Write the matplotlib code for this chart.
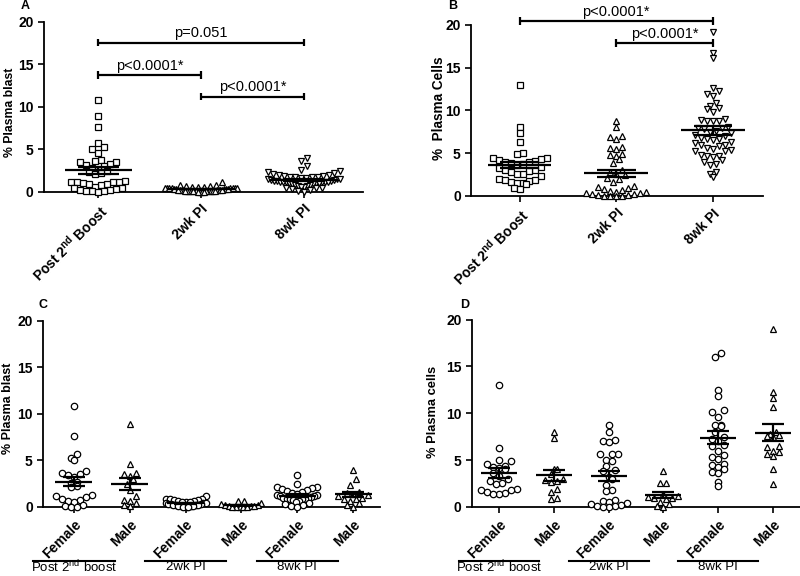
import numpy as np
import matplotlib
matplotlib.use("Agg")
from matplotlib import pyplot as plt

plt.rcParams["font.family"] = "Liberation Sans"
plt.rcParams["mathtext.fontset"] = "custom"
plt.rcParams["mathtext.rm"] = "Liberation Sans"
plt.rcParams["mathtext.bf"] = "Liberation Sans:bold"

# panel A: % plasma blast
blast_boost = [10.8, 8.9, 7.6, 5.7, 5.3, 5.0, 4.6, 3.8, 3.6, 3.5, 3.5, 3.3, 3.1, 3.0, 2.8,
               2.6, 2.4, 2.3, 2.2, 2.1, 1.3, 1.2, 1.2, 1.1, 1.1, 1.0, 0.9, 0.9, 0.8, 0.6,
               0.5, 0.4, 0.3, 0.2, 0.2, 0.1, 0.1, 0.1, 0.0]
blast_2wk = [1.1, 0.8, 0.8, 0.7, 0.7, 0.6, 0.6, 0.6, 0.5, 0.5, 0.5, 0.5, 0.4, 0.4, 0.4,
             0.4, 0.3, 0.3, 0.3, 0.3, 0.3, 0.2, 0.2, 0.2, 0.2, 0.2, 0.2, 0.1, 0.1, 0.1,
             0.1, 0.1, 0.1, 0.1, 0.1, 0.05, 0.05, 0.05, 0.0, 0.0, 0.0, 0.0]
blast_8wk = [4.0, 3.6, 3.0, 2.6, 2.4, 2.3, 2.2, 2.1, 2.0, 2.0, 1.9, 1.9, 1.8, 1.8, 1.7,
             1.7, 1.6, 1.6, 1.5, 1.5, 1.5, 1.4, 1.4, 1.3, 1.3, 1.3, 1.2, 1.2, 1.2, 1.1,
             1.1, 1.1, 1.0, 1.0, 1.0, 0.9, 0.9, 0.8, 0.8, 0.7, 0.7, 0.6, 0.6, 0.5, 0.5,
             0.4, 0.3, 0.2, 0.1, 0.0]

# panel B: % plasma cells
cells_boost = [13.0, 8.0, 7.4, 6.3, 5.0, 4.9, 4.4, 4.4, 4.3, 4.2, 4.1, 4.0, 3.9, 3.8, 3.7,
               3.6, 3.4, 3.2, 3.0, 3.0, 2.9, 2.8, 2.6, 2.5, 2.3, 2.0, 1.9, 1.8, 1.7, 1.6,
               1.5, 1.5, 1.4, 0.9, 0.8]
cells_2wk = [8.7, 8.0, 7.0, 6.9, 6.7, 5.7, 5.6, 5.5, 4.9, 4.8, 4.7, 4.3, 3.8, 3.0, 2.8,
             2.6, 2.4, 2.1, 2.0, 1.6, 1.2, 1.0, 0.9, 0.8, 0.7, 0.6, 0.5, 0.4, 0.3, 0.3,
             0.2, 0.2, 0.1, 0.1, 0.0, 0.0, 0.0, 0.0]
cells_8wk = [19.1, 16.7, 16.1, 12.6, 12.3, 11.9, 11.7, 10.9, 10.5, 10.3, 10.1, 9.8, 9.0,
             8.9, 8.8, 8.8, 8.7, 8.1, 7.9, 7.9, 7.8, 7.6, 7.5, 7.4, 7.1, 7.0, 6.8, 6.7,
             6.6, 6.5, 6.3, 6.2, 6.0, 5.9, 5.8, 5.6, 5.5, 5.4, 5.3, 5.2, 4.8, 4.7, 4.6,
             4.5, 4.2, 4.0, 3.7, 3.6, 2.8, 2.5, 2.2]

# panel C: % plasma blast by sex
blast_f_boost = [10.8, 7.6, 5.7, 5.3, 5.0, 3.9, 3.6, 3.5, 3.4, 3.2, 2.7, 2.6, 2.2, 2.1,
                 1.3, 1.2, 1.1, 0.8, 0.7, 0.6, 0.5, 0.2, 0.1, 0.0, 0.0]
blast_m_boost = [8.9, 4.6, 3.6, 3.5, 3.3, 3.0, 2.5, 1.8, 1.2, 0.7, 0.6, 0.4, 0.2, 0.1]
blast_f_2wk = [1.2, 0.9, 0.8, 0.8, 0.7, 0.7, 0.6, 0.6, 0.5, 0.5, 0.5, 0.4, 0.4, 0.4, 0.3,
               0.3, 0.3, 0.2, 0.2, 0.2, 0.2, 0.1, 0.1, 0.1, 0.1, 0.0, 0.0, 0.0]
blast_m_2wk = [0.6, 0.6, 0.4, 0.3, 0.2, 0.2, 0.1, 0.1, 0.1, 0.0, 0.0, 0.0, 0.0, 0.0]
blast_f_8wk = [3.4, 2.5, 2.1, 2.1, 2.0, 1.9, 1.8, 1.7, 1.6, 1.5, 1.4, 1.3, 1.3, 1.2, 1.2,
               1.1, 1.0, 1.0, 0.9, 0.9, 0.8, 0.8, 0.7, 0.6, 0.5, 0.4, 0.3, 0.2, 0.1, 0.0]
blast_m_8wk = [4.0, 3.0, 2.3, 1.6, 1.5, 1.4, 1.3, 1.2, 1.0, 0.9, 0.8, 0.6, 0.4, 0.2, 0.0]

# panel D: % plasma cells by sex
cells_f_boost = [13.0, 6.3, 5.0, 4.9, 4.6, 4.4, 4.3, 4.2, 4.0, 3.6, 3.3, 3.0, 2.8, 2.5,
                 2.4, 1.9, 1.8, 1.8, 1.6, 1.5, 1.4, 1.4]
cells_m_boost = [8.0, 7.4, 4.1, 4.0, 3.5, 3.0, 2.9, 2.8, 2.7, 1.9, 1.6, 0.9, 0.8]
cells_f_2wk = [8.8, 8.0, 7.1, 7.0, 6.9, 5.7, 5.6, 5.6, 5.0, 4.9, 4.4, 3.9, 3.8, 3.2, 3.0,
               2.3, 1.8, 1.7, 0.7, 0.6, 0.5, 0.4, 0.3, 0.2, 0.1, 0.1, 0.0, 0.0]
cells_m_2wk = [3.8, 2.5, 2.5, 1.4, 1.2, 1.1, 1.0, 0.9, 0.8, 0.5, 0.3, 0.1, 0.0]
cells_f_8wk = [16.4, 16.0, 12.5, 11.8, 10.4, 10.1, 9.6, 8.8, 8.7, 8.6, 8.0, 7.5, 7.2, 7.0,
               6.6, 6.5, 6.0, 5.5, 5.3, 5.1, 4.6, 4.5, 4.3, 4.0, 3.7, 3.6, 2.7, 2.2]
cells_m_8wk = [19.0, 12.3, 11.6, 10.7, 8.0, 7.8, 7.7, 7.6, 7.5, 6.5, 6.4, 6.0, 5.9, 5.7,
               5.4, 4.0, 2.4]

time_labels = [r"Post 2$^{\bf nd}$ Boost", "2wk PI", "8wk PI"]
sex_labels = ["Female", "Male"] * 3
group_labels = [r"Post 2$^{\mathrm{nd}}$ boost", "2wk PI", "8wk PI"]

W, H = 800, 576


def rows(vals, xs, ys, bin_px, d, maxw):
    # prism-like scatter: bin by height, spread each row sideways
    vals = np.asarray(vals, float)
    offs = np.zeros(len(vals))
    b = np.floor(vals * ys / bin_px + 0.5)
    for k in np.unique(b):
        idx = np.where(b == k)[0]
        idx = idx[np.argsort(vals[idx], kind="stable")]
        n = len(idx)
        s = d if n < 2 else min(d, maxw / (n - 1))
        pos = (np.arange(n) - (n - 1) / 2) * s
        pos = pos[np.argsort(np.abs(pos), kind="stable")]
        offs[idx] = pos / xs
    return offs


def setup(ax, xlim):
    ax.set_xlim(*xlim)
    ax.set_ylim(0, 20)
    for s in ["top", "right"]:
        ax.spines[s].set_visible(False)
    for s in ["left", "bottom"]:
        ax.spines[s].set_linewidth(1.3)
    ax.set_yticks([0, 5, 10, 15, 20])
    ax.tick_params(axis="both", width=1.2, length=4, labelsize=10)
    for lab in ax.get_yticklabels():
        lab.set_fontweight("bold")


def draw_group(ax, pos, vals, marker, ms, maxw):
    p = ax.get_position()
    xs = p.width * W / (ax.get_xlim()[1] - ax.get_xlim()[0])
    ys = p.height * H / 20.0
    off = rows(vals, xs, ys, 8.5, 6.0, maxw)
    ax.plot(pos + off, vals, linestyle="none", marker=marker, ms=ms, mfc="white",
            mec="black", mew=0.9, clip_on=False, zorder=3)
    m = np.mean(vals)
    se = np.std(vals, ddof=1) / np.sqrt(len(vals))
    kw = dict(color="black", lw=1.6, zorder=4, solid_capstyle="butt")
    ax.plot([pos - 0.33, pos + 0.33], [m, m], **kw)
    ax.plot([pos - 0.2, pos + 0.2], [m + se, m + se], **kw)
    ax.plot([pos - 0.2, pos + 0.2], [m - se, m - se], **kw)
    ax.plot([pos, pos], [m - se, m + se], **kw)


def bracket(ax, x1, x2, y, text):
    kw = dict(color="black", lw=1.6, clip_on=False, solid_capstyle="butt")
    ax.plot([x1, x2], [y, y], **kw)
    ax.plot([x1, x1], [y - 0.45, y + 0.45], **kw)
    ax.plot([x2, x2], [y - 0.45, y + 0.45], **kw)
    ax.text((x1 + x2) / 2, y + 1.1, text, ha="center", va="center", fontsize=10.5)


def group_lines(ax, yl, yt):
    tr = ax.get_xaxis_transform()
    for c, lab in zip([0, 2, 4], group_labels):
        ax.plot([c - 0.73, c + 0.73], [yl, yl], color="black", lw=1.5, transform=tr,
                clip_on=False)
        ax.text(c, yt, lab, ha="center", va="center", fontsize=9.5, transform=tr)


fig = plt.figure(figsize=(8, 5.76), dpi=100)
axA = fig.add_axes([0.055, 0.667, 0.399, 0.295])
axB = fig.add_axes([0.589, 0.660, 0.365, 0.297])
axC = fig.add_axes([0.054, 0.120, 0.421, 0.323])
axD = fig.add_axes([0.590, 0.120, 0.410, 0.325])

setup(axA, (-0.53, 2.58))
setup(axB, (-0.5, 2.52))
setup(axC, (-0.55, 5.48))
setup(axD, (-0.5, 5.5))

for i, (v, mk) in enumerate(zip([blast_boost, blast_2wk, blast_8wk], ["s", "^", "v"])):
    draw_group(axA, i, v, mk, 4.2 if mk == "s" else 4.6, 72)
for i, (v, mk) in enumerate(zip([cells_boost, cells_2wk, cells_8wk], ["s", "^", "v"])):
    draw_group(axB, i, v, mk, 4.2 if mk == "s" else 4.6, 68)

blast_sex = [blast_f_boost, blast_m_boost, blast_f_2wk, blast_m_2wk, blast_f_8wk, blast_m_8wk]
cells_sex = [cells_f_boost, cells_m_boost, cells_f_2wk, cells_m_2wk, cells_f_8wk, cells_m_8wk]
for i, v in enumerate(blast_sex):
    draw_group(axC, i, v, "o" if i % 2 == 0 else "^", 4.6, 40)
for i, v in enumerate(cells_sex):
    draw_group(axD, i, v, "o" if i % 2 == 0 else "^", 4.6, 36)

for ax in [axA, axB]:
    ax.set_xticks([0, 1, 2])
    ax.set_xticklabels(time_labels, rotation=45, ha="right", rotation_mode="anchor",
                       fontweight="bold")
for ax in [axC, axD]:
    ax.set_xticks(range(6))
    ax.set_xticklabels(sex_labels, rotation=45, ha="right", rotation_mode="anchor",
                       fontweight="bold")

bracket(axA, 0, 2, 17.56, "p=0.051")
bracket(axA, 0, 1, 13.76, "p<0.0001*")
bracket(axA, 1, 2, 11.2, "p<0.0001*")
bracket(axB, 0, 2, 20.4, "p<0.0001*")
bracket(axB, 1, 2, 17.86, "p<0.0001*")

group_lines(axC, -0.29, -0.322)
group_lines(axD, -0.289, -0.322)

fig.text(10 / W, 1 - 112 / H, "% Plasma blast", rotation=90, ha="center", va="center",
         fontsize=8.8, fontweight="bold")
fig.text(439 / W, 1 - 108 / H, "%  Plasma Cells", rotation=90, ha="center", va="center",
         fontsize=9.8, fontweight="bold")
fig.text(8 / W, 1 - 408 / H, "% Plasma blast", rotation=90, ha="center", va="center",
         fontsize=9, fontweight="bold")
fig.text(433 / W, 1 - 412 / H, "% Plasma cells", rotation=90, ha="center", va="center",
         fontsize=9.3, fontweight="bold")

for lab, x, y in [("A", 25, 6), ("B", 453, 6), ("C", 43, 305), ("D", 465, 305)]:
    fig.text(x / W, 1 - y / H, lab, ha="center", va="center", fontsize=9, fontweight="bold")

fig.savefig("out.png", dpi=100)
